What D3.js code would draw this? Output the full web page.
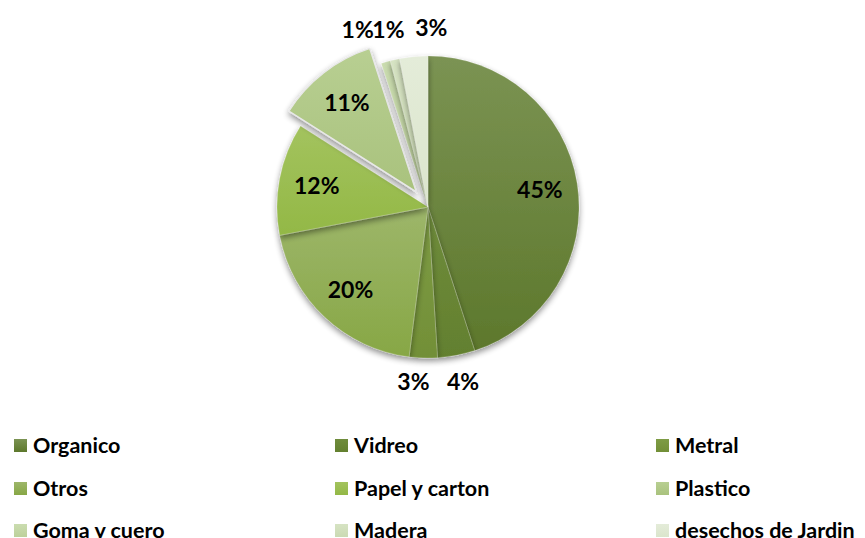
<!DOCTYPE html>
<html>
<head>
<meta charset="utf-8">
<script src="https://cdn.jsdelivr.net/npm/d3@7"></script>
<style>
  body { margin: 0; background: #fff; }
  text { font-family: Lato, "Open Sans", sans-serif; font-weight: 700; fill: #000; }
</style>
</head>
<body>
<div id="vis"></div>
<script>
var categories = ["Organico", "Vidreo", "Metral", "Otros", "Papel y carton", "Plastico", "Goma y cuero", "Madera", "desechos de Jardin"];
var values = [45, 4, 3, 20, 12, 11, 1, 1, 3];
var percentLabels = ["45%", "4%", "3%", "20%", "12%", "11%", "1%", "1%", "3%"];

// top / bottom of the vertical gradient on each slice
var colorTop = ["#7b9353", "#6f8c3c", "#7e9c45", "#9db66a", "#a3c35e", "#b8cf92", "#cadcaf", "#d6e3c3", "#e4ecd9"];
var colorBot = ["#5d782c", "#63802f", "#728f37", "#87a745", "#93b846", "#a9c27d", "#bdd19b", "#cbdab3", "#dbe5cc"];

var outside = ["Vidreo", "Metral", "Goma y cuero", "Madera", "desechos de Jardin"];
var exploded = "Plastico";
// label nudges so the small outside labels don't sit on each other
var nudge = {"Metral": [-9, -2], "Vidreo": [2, 1], "Goma y cuero": [-21, -8], "Madera": [-1, -5], "desechos de Jardin": [20, -3]};

var width = 865, height = 538;
var cx = 428, cy = 207, radius = 151;

var svg = d3.select("#vis").append("svg")
  .attr("width", width)
  .attr("height", height);

var defs = svg.append("defs");

var shadow = defs.append("filter").attr("id", "shadow")
  .attr("x", "-20%").attr("y", "-20%").attr("width", "140%").attr("height", "140%");
shadow.append("feGaussianBlur").attr("in", "SourceAlpha").attr("stdDeviation", 3);
shadow.append("feOffset").attr("dx", 0).attr("dy", 3).attr("result", "blur");
shadow.append("feComponentTransfer").append("feFuncA").attr("type", "linear").attr("slope", 0.45);
var merge = shadow.append("feMerge");
merge.append("feMergeNode");
merge.append("feMergeNode").attr("in", "SourceGraphic");

categories.forEach(function(c, i){
  var g = defs.append("linearGradient").attr("id", "grad" + i)
    .attr("x1", 0).attr("y1", 0).attr("x2", 0).attr("y2", 1);
  g.append("stop").attr("offset", "0%").attr("stop-color", colorTop[i]);
  g.append("stop").attr("offset", "100%").attr("stop-color", colorBot[i]);
});

var data = categories.map(function(c, i){
  return {name: c, value: values[i], label: percentLabels[i], idx: i};
});

var pie = d3.pie().sort(null).value(function(d){ return d.value; });
var arcs = pie(data);

var arc = d3.arc().innerRadius(0).outerRadius(radius);
var labelArc = d3.arc().innerRadius(radius * 0.75).outerRadius(radius * 0.75);
var outArc = d3.arc().innerRadius(radius * 1.17).outerRadius(radius * 1.17);

var explodeDist = 19;
function offset(d){
  if(d.data.name != exploded) return [0, 0];
  var a = (d.startAngle + d.endAngle) / 2;
  return [Math.sin(a) * explodeDist, -Math.cos(a) * explodeDist];
}

var pieG = svg.append("g")
  .attr("transform", "translate(" + cx + "," + cy + ")");

pieG.selectAll(".slice")
  .data(arcs)
  .enter()
  .append("path")
  .attr("class", "slice")
  .attr("d", arc)
  .attr("transform", function(d){
    var o = offset(d);
    return "translate(" + o[0] + "," + o[1] + ")";
  })
  .attr("fill", function(d){ return "url(#grad" + d.data.idx + ")"; })
  .attr("stroke", function(d){ return d.data.name == exploded ? "#e8e8e8" : "rgba(255,255,255,0.35)"; })
  .attr("stroke-width", function(d){ return d.data.name == exploded ? 1.5 : 0.5; })
  .attr("filter", "url(#shadow)");

pieG.selectAll(".plabel")
  .data(arcs)
  .enter()
  .append("text")
  .attr("class", "plabel")
  .attr("text-anchor", "middle")
  .attr("dy", "0.36em")
  .style("font-size", "23px")
  .attr("transform", function(d){
    var o = offset(d);
    var p;
    if(outside.indexOf(d.data.name) >= 0){
      p = outArc.centroid(d);
      var n = nudge[d.data.name] || [0, 0];
      p = [p[0] + n[0], p[1] + n[1]];
    } else {
      p = labelArc.centroid(d);
    }
    return "translate(" + (p[0] + o[0]) + "," + (p[1] + o[1]) + ")";
  })
  .text(function(d){ return d.data.label; });

// legend, three columns
var colX = [14, 335, 656];
var rowY = [445, 488, 530];

var legend = svg.selectAll(".legend")
  .data(data)
  .enter()
  .append("g")
  .attr("class", "legend")
  .attr("transform", function(d, i){
    return "translate(" + colX[i % 3] + "," + rowY[Math.floor(i / 3)] + ")";
  });

legend.append("rect")
  .attr("x", 0)
  .attr("y", -6)
  .attr("width", 13)
  .attr("height", 13)
  .attr("fill", function(d){ return "url(#grad" + d.idx + ")"; });

legend.append("text")
  .attr("x", 19)
  .attr("dy", "0.36em")
  .style("font-size", "21.5px")
  .text(function(d){ return d.name; });
</script>
</body>
</html>
